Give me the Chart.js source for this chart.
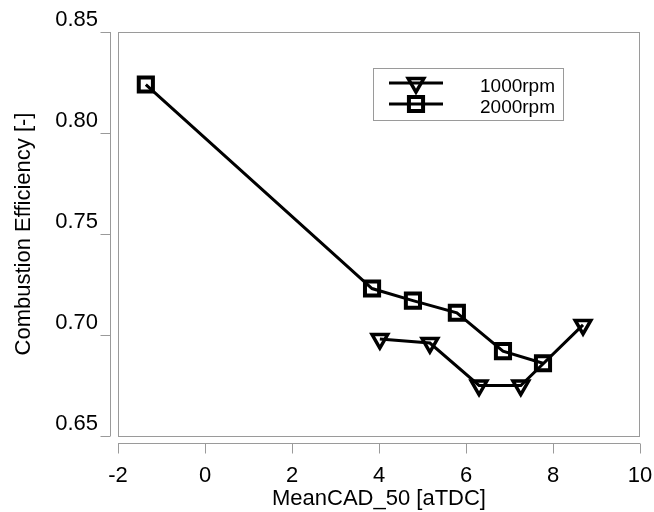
<!DOCTYPE html>
<html>
<head>
<meta charset="utf-8">
<title>Combustion Efficiency vs MeanCAD_50</title>
<script src="https://cdn.jsdelivr.net/npm/chart.js@4/dist/chart.umd.min.js"></script>
<style>
  html, body { margin: 0; padding: 0; background: #fff; }
  #wrap { width: 654px; height: 512px; }
</style>
</head>
<body>
<div id="wrap"><canvas id="chart" width="654" height="512"></canvas></div>
<script>
"use strict";

// ── Data ──────────────────────────────────────────────────────────────────
const seriesLabels = ["1000rpm", "2000rpm"];

const cad1000 = [4.02, 5.17, 6.30, 7.26, 8.69];
const eff1000 = [0.698, 0.696, 0.675, 0.675, 0.705];

const cad2000 = [-1.36, 3.84, 4.78, 5.79, 6.85, 7.77];
const eff2000 = [0.824, 0.723, 0.717, 0.711, 0.692, 0.686];

const xTicks = [-2, 0, 2, 4, 6, 8, 10];
const yTicks = [0.65, 0.70, 0.75, 0.80, 0.85];

// ── Styling ───────────────────────────────────────────────────────────────
const FONT = "'Liberation Sans', Arial, Helvetica, sans-serif";
const AXIS_GREY = "#9a9a9a";
const INK = "#000";

const toPoints = (xs, ys) => xs.map((x, i) => ({ x, y: ys[i] }));

// ── Plugin: offset axis lines, tick marks and plot frame ──────────────────
const frameAxes = {
  id: "frameAxes",
  beforeDatasetsDraw(chart) {
    const { ctx, chartArea: a, scales } = chart;
    const xs = scales.x, ys = scales.y;
    ctx.save();
    ctx.strokeStyle = AXIS_GREY;
    ctx.lineWidth = 1;
    // plot frame
    ctx.strokeRect(a.left + 0.5, a.top + 0.5, a.right - a.left - 1, a.bottom - a.top);
    // y axis, set 8px left of the frame
    const yx = a.left - 8 + 0.5;
    ctx.beginPath();
    ctx.moveTo(yx, a.top);
    ctx.lineTo(yx, a.bottom);
    yTicks.forEach((v) => {
      const py = Math.round(ys.getPixelForValue(v)) + 0.5;
      ctx.moveTo(yx - 10, py);
      ctx.lineTo(yx, py);
    });
    // x axis, set 7px below the frame
    const xy = a.bottom + 7 + 0.5;
    ctx.moveTo(a.left, xy);
    ctx.lineTo(a.right, xy);
    xTicks.forEach((v) => {
      const px = Math.round(xs.getPixelForValue(v)) + 0.5;
      ctx.moveTo(px, xy);
      ctx.lineTo(px, xy + 10);
    });
    ctx.stroke();
    ctx.restore();
  },
};

// ── Plugin: boxed legend inside the plot ──────────────────────────────────
const boxLegend = {
  id: "boxLegend",
  afterDraw(chart) {
    const { ctx, chartArea: a } = chart;
    const left = a.left + 255, top = a.top + 36, w = 190, h = 52;
    ctx.save();
    ctx.fillStyle = "#fff";
    ctx.fillRect(left, top, w, h);
    ctx.strokeStyle = AXIS_GREY;
    ctx.lineWidth = 1;
    ctx.strokeRect(left + 0.5, top + 0.5, w, h);

    chart.data.datasets.forEach((ds, i) => {
      const rowY = top + 15 + i * 21;
      const mx = left + 43;
      ctx.strokeStyle = ds.borderColor;
      ctx.lineWidth = ds.borderWidth;
      ctx.beginPath();
      ctx.moveTo(left + 16, rowY);
      ctx.lineTo(left + 70, rowY);
      ctx.stroke();
      if (Chart.helpers && Chart.helpers.drawPoint) {
        ctx.fillStyle = "rgba(0,0,0,0)";
        ctx.strokeStyle = ds.pointBorderColor;
        ctx.lineWidth = ds.pointBorderWidth;
        Chart.helpers.drawPoint(ctx, {
          pointStyle: ds.pointStyle,
          rotation: ds.pointRotation || 0,
          radius: ds.pointRadius,
          borderWidth: ds.pointBorderWidth,
        }, mx, rowY);
      }
      ctx.fillStyle = INK;
      ctx.font = "19px " + FONT;
      ctx.textAlign = "right";
      ctx.textBaseline = "middle";
      ctx.fillText(ds.label, left + 182, rowY + 4);
    });
    ctx.restore();
  },
};

// ── Chart ─────────────────────────────────────────────────────────────────
const lineStyle = {
  borderColor: INK,
  borderWidth: 3,
  backgroundColor: "rgba(0,0,0,0)",
  pointBorderColor: INK,
  pointBackgroundColor: "rgba(0,0,0,0)",
  showLine: true,
  tension: 0,
};

new Chart(document.getElementById("chart").getContext("2d"), {
  type: "scatter",
  data: {
    datasets: [
      {
        ...lineStyle,
        label: seriesLabels[0],
        data: toPoints(cad1000, eff1000),
        pointStyle: "triangle",
        pointRotation: 180,
        pointRadius: 9,
        pointBorderWidth: 3.5,
      },
      {
        ...lineStyle,
        label: seriesLabels[1],
        data: toPoints(cad2000, eff2000),
        pointStyle: "rect",
        pointRadius: 10,
        pointBorderWidth: 4,
      },
    ],
  },
  options: {
    responsive: false,
    animation: false,
    devicePixelRatio: 1,
    layout: { padding: { left: 0, right: 12, top: 32, bottom: 0 } },
    plugins: {
      legend: { display: false },
      tooltip: { enabled: false },
    },
    scales: {
      x: {
        type: "linear",
        min: xTicks[0],
        max: xTicks[xTicks.length - 1],
        afterFit: (s) => { s.height = 76; s.paddingLeft = 0; s.paddingRight = 0; },
        afterBuildTicks: (s) => { s.ticks = xTicks.map((v) => ({ value: v })); },
        grid: { display: false, drawTicks: false },
        border: { display: false },
        ticks: {
          padding: 27,
          color: INK,
          font: { family: FONT, size: 22 },
          callback: (v) => String(v),
        },
        title: {
          display: true,
          text: "MeanCAD_50 [aTDC]",
          color: INK,
          font: { family: FONT, size: 22 },
          padding: { top: 0, bottom: 0 },
        },
      },
      y: {
        type: "linear",
        min: yTicks[0],
        max: yTicks[yTicks.length - 1],
        afterFit: (s) => { s.width = 118; s.paddingTop = 0; s.paddingBottom = 0; },
        afterBuildTicks: (s) => { s.ticks = yTicks.map((v) => ({ value: v })); },
        grid: { display: false, drawTicks: false },
        border: { display: false },
        ticks: {
          padding: 20,
          labelOffset: -12,
          color: INK,
          font: { family: FONT, size: 22 },
          callback: (v) => Number(v).toFixed(2),
        },
        title: {
          display: true,
          text: "Combustion Efficiency [-]",
          color: INK,
          font: { family: FONT, size: 22 },
          padding: { top: 11, bottom: 0 },
        },
      },
    },
  },
  plugins: [frameAxes, boxLegend],
});
</script>
</body>
</html>
